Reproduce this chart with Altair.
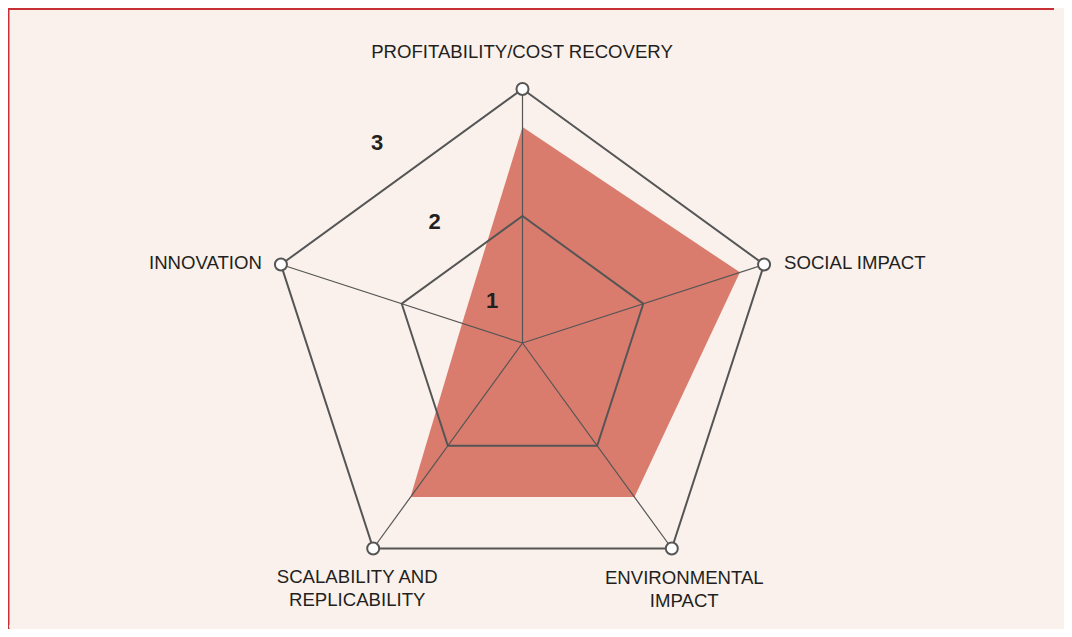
import math
import pandas as pd
import altair as alt

# ---- data ----
categories = [
    "PROFITABILITY/COST RECOVERY",
    "SOCIAL IMPACT",
    "ENVIRONMENTAL\nIMPACT",
    "SCALABILITY AND\nREPLICABILITY",
    "INNOVATION",
]
scores = [2.7, 2.8, 2.5, 2.5, 1.5]
ring_levels = [2, 3]
tick_values = [1, 2, 3]
tick_labels = ["1", "2", "3"]

n = len(categories)
score_df = pd.DataFrame({"category": categories, "idx": list(range(n)), "value": scores})
ring_df = pd.DataFrame(
    [{"ring": r, "idx": i, "value": r} for r in ring_levels for i in range(n)]
)
axis_df = pd.DataFrame(
    {"category": categories, "idx": list(range(n)), "value": [max(ring_levels)] * n}
)
tick_df = pd.DataFrame({"value": tick_values, "label": tick_labels})
deco_df = pd.DataFrame({"k": [0]})

# ---- styling ----
BG = "#faf1ec"
RED = "#c93035"
FILL = "#d97c6e"
GRID = "#555555"
TEXT = "#231f20"
FONT = "Liberation Sans"

W, H = 1056, 621
xs = alt.Scale(domain=[-4.0512, 4.2638], nice=False, zero=False)
ys = alt.Scale(domain=[-2.2520, 2.6378], nice=False, zero=False)

ang = f"datum.idx * 2 * PI / {n}"
calc_x = f"(datum.value - 1) * sin({ang})"
calc_y = f"(datum.value - 1) * cos({ang})"

X = alt.X("x:Q", scale=xs, axis=None)
Y = alt.Y("y:Q", scale=ys, axis=None)

# decorative card frame (left edge, rounded bottom-left corner, top bar)
left_edge = alt.Chart(deco_df).mark_rule(color=RED, strokeWidth=2).encode(
    x=alt.value(0.5), y=alt.value(0), y2=alt.value(617)
)
corner = alt.Chart(deco_df).mark_arc(
    color=RED, radius=15.5, radius2=12.5, theta=math.pi, theta2=1.5 * math.pi
).encode(x=alt.value(13.5), y=alt.value(617))
top_bar = alt.Chart(deco_df).mark_rule(color=RED, strokeWidth=2).encode(
    x=alt.value(0), x2=alt.value(W - 10), y=alt.value(1)
)

# score polygon
poly = alt.Chart(score_df).transform_calculate(x=calc_x, y=calc_y).mark_line(
    interpolate="linear-closed", fill=FILL, stroke=None, strokeWidth=0
).encode(x=X, y=Y, order=alt.Order("idx:Q"))

# spokes
spokes = alt.Chart(axis_df).transform_calculate(
    x=calc_x, y=calc_y, cx="0", cy="0"
).mark_rule(color=GRID, strokeWidth=1.2).encode(
    x=alt.X("cx:Q", scale=xs, axis=None),
    y=alt.Y("cy:Q", scale=ys, axis=None),
    x2="x:Q",
    y2="y:Q",
)

# rings
rings = alt.Chart(ring_df).transform_calculate(x=calc_x, y=calc_y).mark_line(
    interpolate="linear-closed", color=GRID, strokeWidth=2
).encode(x=X, y=Y, order=alt.Order("idx:Q"), detail="ring:N")

# vertex markers
markers = alt.Chart(axis_df).transform_calculate(x=calc_x, y=calc_y).mark_point(
    shape="circle", filled=True, fill="white", stroke=GRID, strokeWidth=2,
    size=145, opacity=1
).encode(x=X, y=Y)

# axis labels
label_style = [
    dict(dx=-0.5, dy=-31, align="center"),
    dict(dx=20, dy=4, align="left"),
    dict(dx=12.5, dy=36, align="center"),
    dict(dx=-16, dy=35, align="center"),
    dict(dx=-19, dy=4, align="right"),
]
label_layers = []
for i, st in enumerate(label_style):
    label_layers.append(
        alt.Chart(axis_df)
        .transform_filter(f"datum.idx == {i}")
        .transform_calculate(x=calc_x, y=calc_y)
        .mark_text(
            font=FONT, fontSize=18.6, color=TEXT, baseline="alphabetic",
            lineBreak="\n", lineHeight=23, **st
        )
        .encode(x=X, y=Y, text="category:N")
    )

# ring value labels along the bisector between first and last axis
tick_ang = "-PI / 5"
ticks = alt.Chart(tick_df).transform_calculate(
    r="(datum.value - 0.47) * 0.77",
    x=f"datum.r * sin({tick_ang})",
    y=f"datum.r * cos({tick_ang})",
).mark_text(
    font=FONT, fontSize=22, fontWeight="bold", color=TEXT,
    align="center", baseline="middle"
).encode(x=X, y=Y, text="label:N")

chart = alt.layer(
    left_edge, corner, top_bar, poly, spokes, rings, markers, *label_layers, ticks
).properties(
    width=W, height=H, padding=0,
    autosize=alt.AutoSizeParams(type="none"),
    background=BG,
).configure_view(stroke=None)

chart.save("out.html", embed_options={"renderer": "svg", "actions": False})
